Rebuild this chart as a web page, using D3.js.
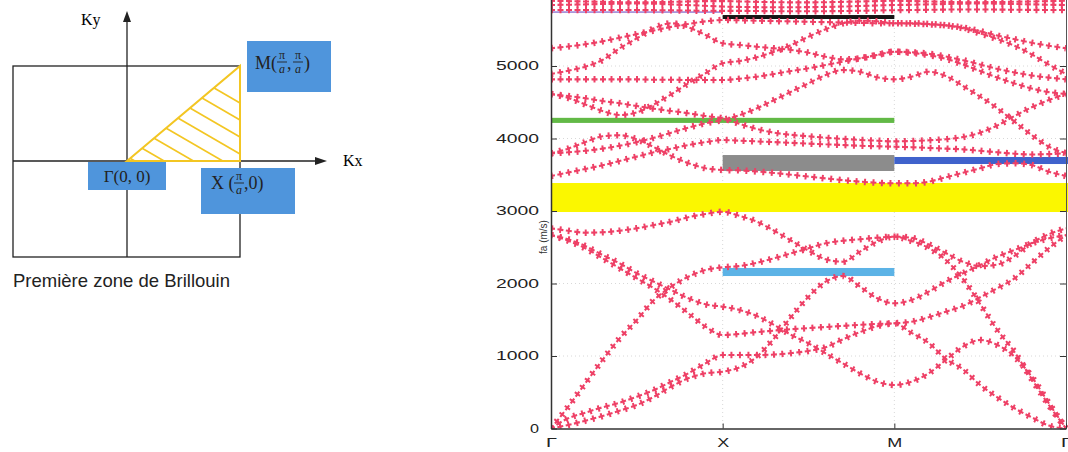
<!DOCTYPE html>
<html><head><meta charset="utf-8">
<script src="https://cdn.jsdelivr.net/npm/d3@7"></script>
<style>body{margin:0;background:#fff}</style>
</head><body><svg id="c" width="1068" height="452"></svg>
<script>
// ---------- DATA ----------
const kLabels = ["Γ", "X", "M", "Γ"];
const kTickPos = [0, 1, 2, 3];
const kSamples = [0,0.1,0.2,0.3,0.4,0.5,0.6,0.7,0.8,0.9,1,1.1,1.2,1.3,1.4,1.5,1.6,1.7,1.8,1.9,2,2.1,2.2,2.3,2.4,2.5,2.6,2.7,2.8,2.9,3];
const yTicks = [0, 1000, 2000, 3000, 4000, 5000];

const band1 = [0,48,108,172,246,324,439,577,692,761,784, 844,991,1244,1542,1818,2025,2103,1956,1796,1727, 1772,1887,2025,2141,2255,2370,2462,2555,2623,2669];
const band2 = [0,141,218,292,356,439,531,646,761,899,1014, 1014,1014,1020,1040,1070,1120,1230,1330,1410,1451, 1320,1180,960,816,600,430,279,154,40,0];
const band3 = [0,301,624,945,1244,1497,1772,1956,2094,2186,2223, 2241,2287,2348,2417,2486,2555,2590,2610,2632,2646, 2586,2490,2324,2062,1717,1359,1055,683,324,0];
const band4 = [2669,2590,2486,2348,2210,2072,1934,1772,1589,1404,1290, 1305,1330,1350,1370,1385,1400,1415,1430,1442,1451, 1473,1534,1611,1690,1810,1934,2072,2279,2486,2669];
const band5 = [2669,2610,2517,2393,2278,2141,2025,1910,1796,1713,1680, 1634,1552,1428,1290,1175,1037,899,761,646,600, 646,761,945,1129,1221,1152,991,715,348,0];
const band6 = [2761,2728,2701,2706,2728,2761,2807,2852,2913,2959,2990, 2931,2852,2728,2590,2452,2334,2301,2439,2577,2646, 2630,2540,2420,2300,2240,2260,2380,2560,2680,2761];
const band7 = [3483,3530,3580,3630,3690,3750,3810,3860,3910,3950,3979, 3970,3960,3950,3940,3930,3920,3910,3900,3893,3887, 3880,3870,3860,3850,3830,3810,3790,3780,3785,3796];
const band8 = [3796,3860,3950,4030,4045,3990,3880,3760,3660,3590,3566, 3560,3545,3525,3500,3475,3450,3425,3405,3390,3382, 3382,3404,3465,3528,3589,3648,3658,3634,3542,3483];
const band9 = [3796,3810,3830,3860,3900,3950,4010,4080,4150,4210,4255, 4324,4417,4531,4646,4761,4876,4945,4921,4844,4816, 4852,4921,4862,4724,4577,4417,4232,4048,3887,3796];
const band10 = [4614,4586,4555,4517,4486,4448,4411,4379,4348,4310,4279, 4200,4130,4080,4050,4030,4010,3995,3980,3970,3960, 3965,3975,3990,4020,4080,4180,4310,4430,4530,4614];
const band11 = [4614,4560,4470,4380,4324,4360,4470,4610,4760,4900,5037, 5069,5120,5197,5290,5404,5506,5589,5625,5617,5589, 5590,5580,5560,5520,5450,5370,5280,5160,5020,4890];
const band12 = [4816,4816,4816,4816,4816,4816,4810,4810,4807,4807,4807, 4825,4852,4890,4931,4968,5014,5059,5106,5152,5197, 5190,5170,5130,5080,5020,4960,4910,4870,4840,4816];
const band13 = [4890,4935,4990,5083,5244,5382,5520,5589,5534,5428,5313, 5290,5266,5244,5221,5184,5128,5092,5106,5152,5197, 5180,5150,5100,5020,4930,4840,4760,4690,4640,4614];
const band14 = [5244,5270,5300,5340,5390,5440,5490,5540,5580,5615,5634, 5630,5625,5620,5615,5610,5605,5600,5595,5590,5589, 5585,5575,5560,5530,5480,5420,5370,5320,5280,5244];
const band15 = [5772,5772,5772,5772,5772,5772,5770,5768,5765,5762,5760, 5760,5758,5756,5755,5755,5756,5758,5762,5766,5770, 5772,5775,5778,5780,5780,5778,5776,5774,5773,5772];
const band16 = [5841,5845,5850,5855,5860,5862,5860,5850,5840,5830,5820, 5815,5812,5810,5810,5812,5815,5820,5828,5835,5841, 5845,5850,5855,5860,5862,5860,5855,5850,5845,5841];
const band17 = [5900,5895,5890,5885,5880,5878,5880,5885,5890,5895,5895, 5890,5885,5880,5878,5878,5880,5885,5890,5895,5900, 5895,5890,5885,5880,5880,5882,5886,5890,5895,5900];
const bands = [band1,band2,band3,band4,band5,band6,band7,band8,band9,band10,band11,band12,band13,band14,band15,band16,band17];

// band gaps (path start, path end, low, high, colour)
const gapFrom  = [0, 0, 1, 2, 1, 1, 0];
const gapTo    = [3, 2, 2, 3, 2, 2, 1];
const gapLow   = [2986, 4215, 3552, 3648, 5648, 2103, 5736];
const gapHigh  = [3386, 4285, 3772, 3745, 5703, 2214, 5752];
const gapColor = ["#fbf700", "#62b946", "#8c8c8c", "#3f62cc", "#151515", "#5cb3e6", "#7a5ac8"];

// ---------- DRAW ----------
const svg = d3.select("#c");
svg.append("rect").attr("width",1068).attr("height",452).attr("fill","#fff");

// ===== Left: Brillouin zone =====
const L = svg.append("g");
const ink = "#222";
L.append("rect").attr("x",13).attr("y",66).attr("width",227).attr("height",191)
 .attr("fill","none").attr("stroke",ink).attr("stroke-width",1.3);
L.append("line").attr("x1",127).attr("y1",257).attr("x2",127).attr("y2",18).attr("stroke",ink).attr("stroke-width",1.3);
L.append("path").attr("d","M127,11 L123,22 L131,22 Z").attr("fill",ink);
L.append("line").attr("x1",13).attr("y1",161).attr("x2",318).attr("y2",161).attr("stroke",ink).attr("stroke-width",1.3);
L.append("path").attr("d","M327,161 L315,157 L315,165 Z").attr("fill",ink);

// triangle + hatching
const tri = [[127,161],[240,66],[240,161]];
svg.append("defs").append("clipPath").attr("id","triClip").append("path")
  .attr("d","M"+tri.map(p=>p.join(",")).join("L")+"Z");
const hatch = L.append("g").attr("clip-path","url(#triClip)");
const hatchC = [-58,-41,-24,-7,10,27,44,61];
hatch.selectAll("line").data(hatchC).join("line")
  .attr("x1",100).attr("x2",260)
  .attr("y1",c=>161-0.58*(240-100)+c).attr("y2",c=>161-0.58*(240-260)+c)
  .attr("stroke","#f3c623").attr("stroke-width",1.7);
L.append("path").attr("d","M"+tri.map(p=>p.join(",")).join("L")+"Z")
  .attr("fill","none").attr("stroke","#f3c623").attr("stroke-width",2);

const serif = "'Liberation Serif','DejaVu Serif',serif";
L.append("text").attr("x",81).attr("y",25).attr("font-family",serif).attr("font-size",16).text("Ky");
L.append("text").attr("x",343).attr("y",166).attr("font-family",serif).attr("font-size",16).text("Kx");

const boxCol = "#4f95dc";
L.append("rect").attr("x",247).attr("y",41).attr("width",84).attr("height",51).attr("fill",boxCol);
L.append("rect").attr("x",88).attr("y",162).attr("width",78).attr("height",28).attr("fill",boxCol);
L.append("rect").attr("x",201).attr("y",168).attr("width",94).attr("height",46).attr("fill",boxCol);

function frac(cx, barY){
  L.append("text").attr("x",cx).attr("y",barY-3).attr("text-anchor","middle")
    .attr("font-family",serif).attr("font-size",12).attr("fill",ink).text("π");
  L.append("line").attr("x1",cx-5).attr("x2",cx+5).attr("y1",barY).attr("y2",barY)
    .attr("stroke",ink).attr("stroke-width",0.9);
  L.append("text").attr("x",cx).attr("y",barY+11).attr("text-anchor","middle")
    .attr("font-family",serif).attr("font-style","italic").attr("font-size",12).attr("fill",ink).text("a");
}
const lab = (x,y,t,fs)=>L.append("text").attr("x",x).attr("y",y).attr("font-family",serif)
   .attr("font-size",fs).attr("fill",ink).text(t);
lab(255,69,"M(",18); frac(282,62); lab(287,69,",",18); frac(298,62); lab(304,69,")",18);
L.append("text").attr("x",127).attr("y",182).attr("text-anchor","middle").attr("font-family",serif)
  .attr("font-size",17).attr("fill",ink).text("Γ(0, 0)");
lab(211,189,"X (",18); frac(239,183); lab(244,189,",0)",18);

L.append("text").attr("x",13).attr("y",287).attr("font-family","'Liberation Sans',Arial,sans-serif")
  .attr("font-size",18.5).attr("fill","#222").text("Première zone de Brillouin");

// ===== Right: band structure =====
const x = d3.scaleLinear().domain([0,3]).range([551,1066]);
const y = d3.scaleLinear().domain([0,6000]).range([428.5,-6.5]);
const R = svg.append("g");

// grid
R.append("g").selectAll("line").data(yTicks.slice(1)).join("line")
  .attr("x1",x(0)).attr("x2",x(3)).attr("y1",d=>y(d)).attr("y2",d=>y(d))
  .attr("stroke","#d8d8d8").attr("stroke-width",1).attr("stroke-dasharray","1,3");
R.append("g").selectAll("line").data(kTickPos.slice(1,3)).join("line")
  .attr("x1",d=>x(d)).attr("x2",d=>x(d)).attr("y1",0).attr("y2",y(0))
  .attr("stroke","#d8d8d8").attr("stroke-width",1).attr("stroke-dasharray","1,3");

svg.append("defs").append("clipPath").attr("id","plotClip").append("rect")
  .attr("x",x(0)).attr("y",0).attr("width",x(3)-x(0)+2).attr("height",y(0));
const P = R.append("g").attr("clip-path","url(#plotClip)");

// gaps
P.append("g").selectAll("rect").data(gapColor).join("rect")
  .attr("x",(d,i)=>x(gapFrom[i])).attr("width",(d,i)=>x(gapTo[i])-x(gapFrom[i]) + (gapTo[i]===3?3:0))
  .attr("y",(d,i)=>y(gapHigh[i])).attr("height",(d,i)=>y(gapLow[i])-y(gapHigh[i]))
  .attr("fill",d=>d);

// bands
const red = "#ee4066";
const line = d3.line().x((d,i)=>x(kSamples[i])).y(d=>y(d)).curve(d3.curveMonotoneX);
const bg = P.append("g");
bg.selectAll("path.t").data(bands).join("path").attr("class","t")
  .attr("d",line).attr("fill","none").attr("stroke",red).attr("stroke-width",6.5)
  .attr("stroke-dasharray","2 6.5");
bg.selectAll("path.l").data(bands).join("path").attr("class","l")
  .attr("d",line).attr("fill","none").attr("stroke",red).attr("stroke-width",2.1)
  .attr("stroke-dasharray","6 2.5").attr("stroke-dashoffset",2);

// axes
const sans = "'Liberation Sans',Arial,sans-serif";
const yAx = R.append("g").attr("transform",`translate(${x(0)},0)`)
  .call(d3.axisLeft(y).tickValues(yTicks).tickSizeInner(-6).tickSizeOuter(0).tickPadding(12).tickFormat(d3.format("d")));
yAx.select(".domain").attr("stroke","#333").attr("stroke-width",1.5);
yAx.selectAll(".tick line").attr("stroke","#333");
yAx.selectAll("text").attr("font-family",sans).attr("font-size",12).attr("fill","#222")
  .attr("textLength",d=>d===0?9:43).attr("lengthAdjust","spacingAndGlyphs");

const yAxR = R.append("g").attr("transform",`translate(${x(3)},0)`)
  .call(d3.axisRight(y).tickValues(yTicks).tickSizeInner(-6).tickSizeOuter(0).tickFormat(""));
yAxR.select(".domain").attr("stroke","#555").attr("stroke-width",1);
yAxR.selectAll(".tick line").attr("stroke","#333");

const xAx = R.append("g").attr("transform",`translate(0,${y(0)})`)
  .call(d3.axisBottom(x).tickValues(kTickPos).tickSizeInner(-5).tickSizeOuter(0).tickPadding(9).tickFormat((d,i)=>kLabels[i]));
xAx.select(".domain").attr("stroke","#333").attr("stroke-width",1.5);
xAx.selectAll(".tick line").attr("stroke","#333");
xAx.selectAll("text").attr("font-family",sans).attr("font-size",13).attr("fill","#222")
  .attr("textLength",(d,i)=>[11,12,15,11][i]).attr("lengthAdjust","spacingAndGlyphs");

R.append("text").attr("transform",`translate(547,237) rotate(-90)`).attr("text-anchor","middle")
  .attr("font-family",sans).attr("font-size",10).attr("fill","#333").text("fa (m/s)");
</script></body></html>
